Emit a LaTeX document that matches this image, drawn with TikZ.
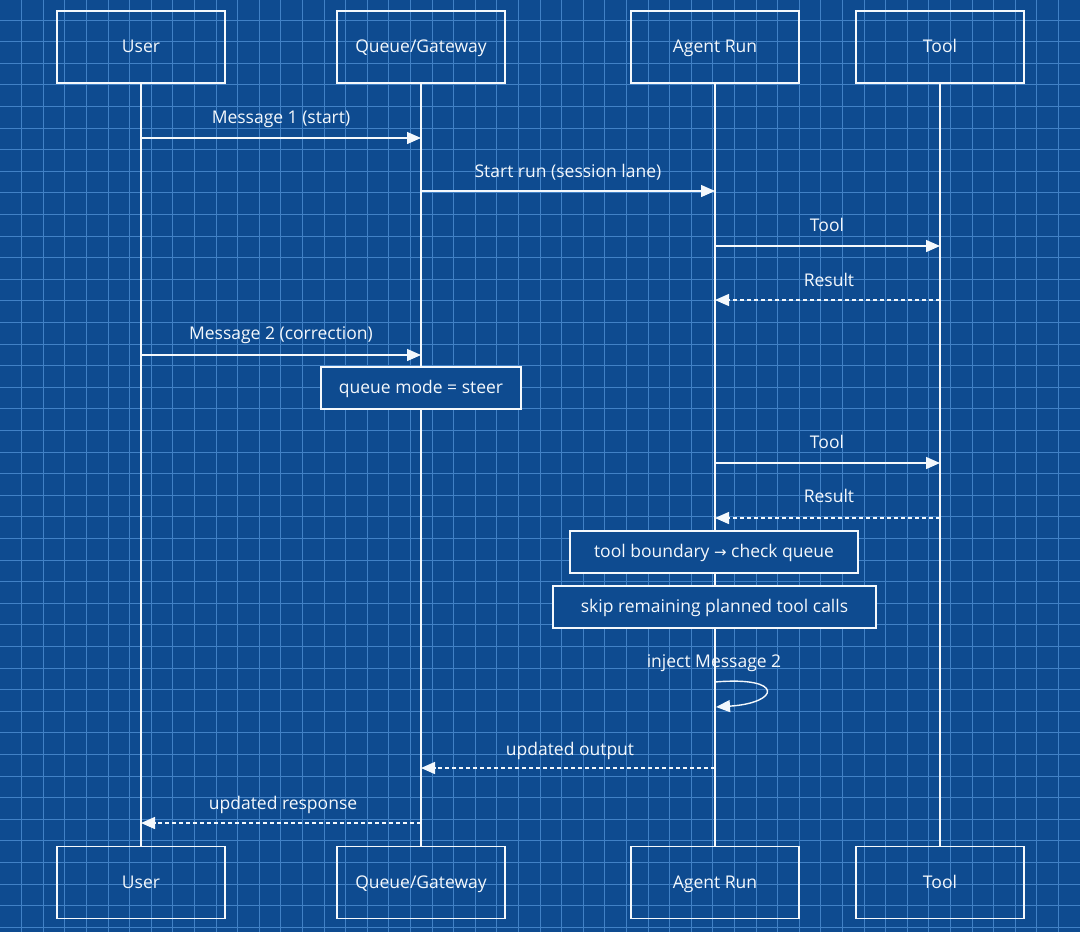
\documentclass[tikz,border=0pt]{standalone}
\usepackage{fontspec}
\setmainfont{Open Sans}
\newfontfamily\symfont{DejaVu Sans}
\usetikzlibrary{arrows.meta}
\definecolor{bp}{HTML}{0E4B90}
\definecolor{gridc}{HTML}{4181C6}
\definecolor{ink}{HTML}{F4F8FC}
\tikzset{
  txt/.style={text=ink, font=\fontsize{17.5}{21}\selectfont, text height=13.5pt, text depth=2.5pt},
  actor/.style={txt, draw=ink, line width=1.4pt, minimum width=168pt, minimum height=72pt, inner sep=0pt},
  note/.style={txt, draw=ink, line width=1.4pt, fill=bp, minimum height=42pt, inner xsep=10pt, inner ysep=0pt},
  life/.style={draw=ink, line width=1.4pt},
  msg/.style={draw=ink, line width=1.4pt, -{Triangle[length=14pt,width=12pt]}},
  ret/.style={msg, dash pattern=on 4pt off 3pt},
  lbl/.style={txt, inner sep=0pt}
}
\begin{document}
\begin{tikzpicture}[x=1pt,y=-1pt]
\fill[bp] (0,0) rectangle (1080,932);
\useasboundingbox (0,0) rectangle (1080,932);
\foreach \i in {1,...,49} {\draw[gridc, line width=1pt] ({21.6*\i},0) -- ({21.6*\i},932);}
\foreach \j in {0,...,42} {\draw[gridc, line width=1pt] (0,{20+21.6*\j}) -- (1080,{20+21.6*\j});}

% actors
\node[actor] (uT) at (141,47) {User};
\node[actor] (qT) at (421,47) {Queue/Gateway};
\node[actor] (aT) at (715,47) {Agent Run};
\node[actor] (tT) at (940,47) {Tool};
\node[actor] (uB) at (141,882.5) {User};
\node[actor] (qB) at (421,882.5) {Queue/Gateway};
\node[actor] (aB) at (715,882.5) {Agent Run};
\node[actor] (tB) at (940,882.5) {Tool};

% lifelines
\draw[life] (uT.south) -- (uB.north);
\draw[life] (qT.south) -- (qB.north);
\draw[life] (aT.south) -- (aB.north);
\draw[life] (tT.south) -- (tB.north);

% message endpoints
\coordinate (m1a) at (141,138); \coordinate (m1b) at (421,138);
\coordinate (m2a) at (421,191); \coordinate (m2b) at (715,191);
\coordinate (m3a) at (715,246); \coordinate (m3b) at (940,246);
\coordinate (m4a) at (940,300); \coordinate (m4b) at (715,300);
\coordinate (m5a) at (141,355); \coordinate (m5b) at (421,355);
\coordinate (m7a) at (715,463); \coordinate (m7b) at (940,463);
\coordinate (m8a) at (940,518); \coordinate (m8b) at (715,518);
\coordinate (s1) at (715,682); \coordinate (s2) at (716,707);
\coordinate (m12a) at (715,768); \coordinate (m12b) at (421,768);
\coordinate (m13a) at (421,823); \coordinate (m13b) at (141,823);

\draw[msg] (m1a) -- (m1b);
\node[lbl] (l1) at (281,118) {Message 1 (start)};
\draw[msg] (m2a) -- (m2b);
\node[lbl] (l2) at (568,172) {Start run (session lane)};
\draw[msg] (m3a) -- (m3b);
\node[lbl] (l3) at (827,226) {Tool};
\draw[ret] (m4a) -- (m4b);
\node[lbl] (l4) at (829,281) {Result};
\draw[msg] (m5a) -- (m5b);
\node[lbl] (l5) at (281,334) {Message 2 (correction)};
\node[note, minimum width=200pt] (n1) at (421,388) {queue mode = steer};
\draw[msg] (m7a) -- (m7b);
\node[lbl] (l7) at (827,443) {Tool};
\draw[ret] (m8a) -- (m8b);
\node[lbl] (l8) at (829,497) {Result};
\node[note, minimum width=288pt] (n2) at (714,552) {tool boundary {\symfont\fontsize{15}{17}\selectfont →} check queue};
\node[note, minimum width=323pt] (n3) at (714.5,607) {skip remaining planned tool calls};
\node[lbl] (l11) at (714,662) {inject Message 2};
\draw[msg] (s1) .. controls (785,676) and (780,703) .. (s2);
\draw[ret] (m12a) -- (m12b);
\node[lbl] (l12) at (570,750) {updated output};
\draw[ret] (m13a) -- (m13b);
\node[lbl] (l13) at (283,804) {updated response};
\end{tikzpicture}
\end{document}
